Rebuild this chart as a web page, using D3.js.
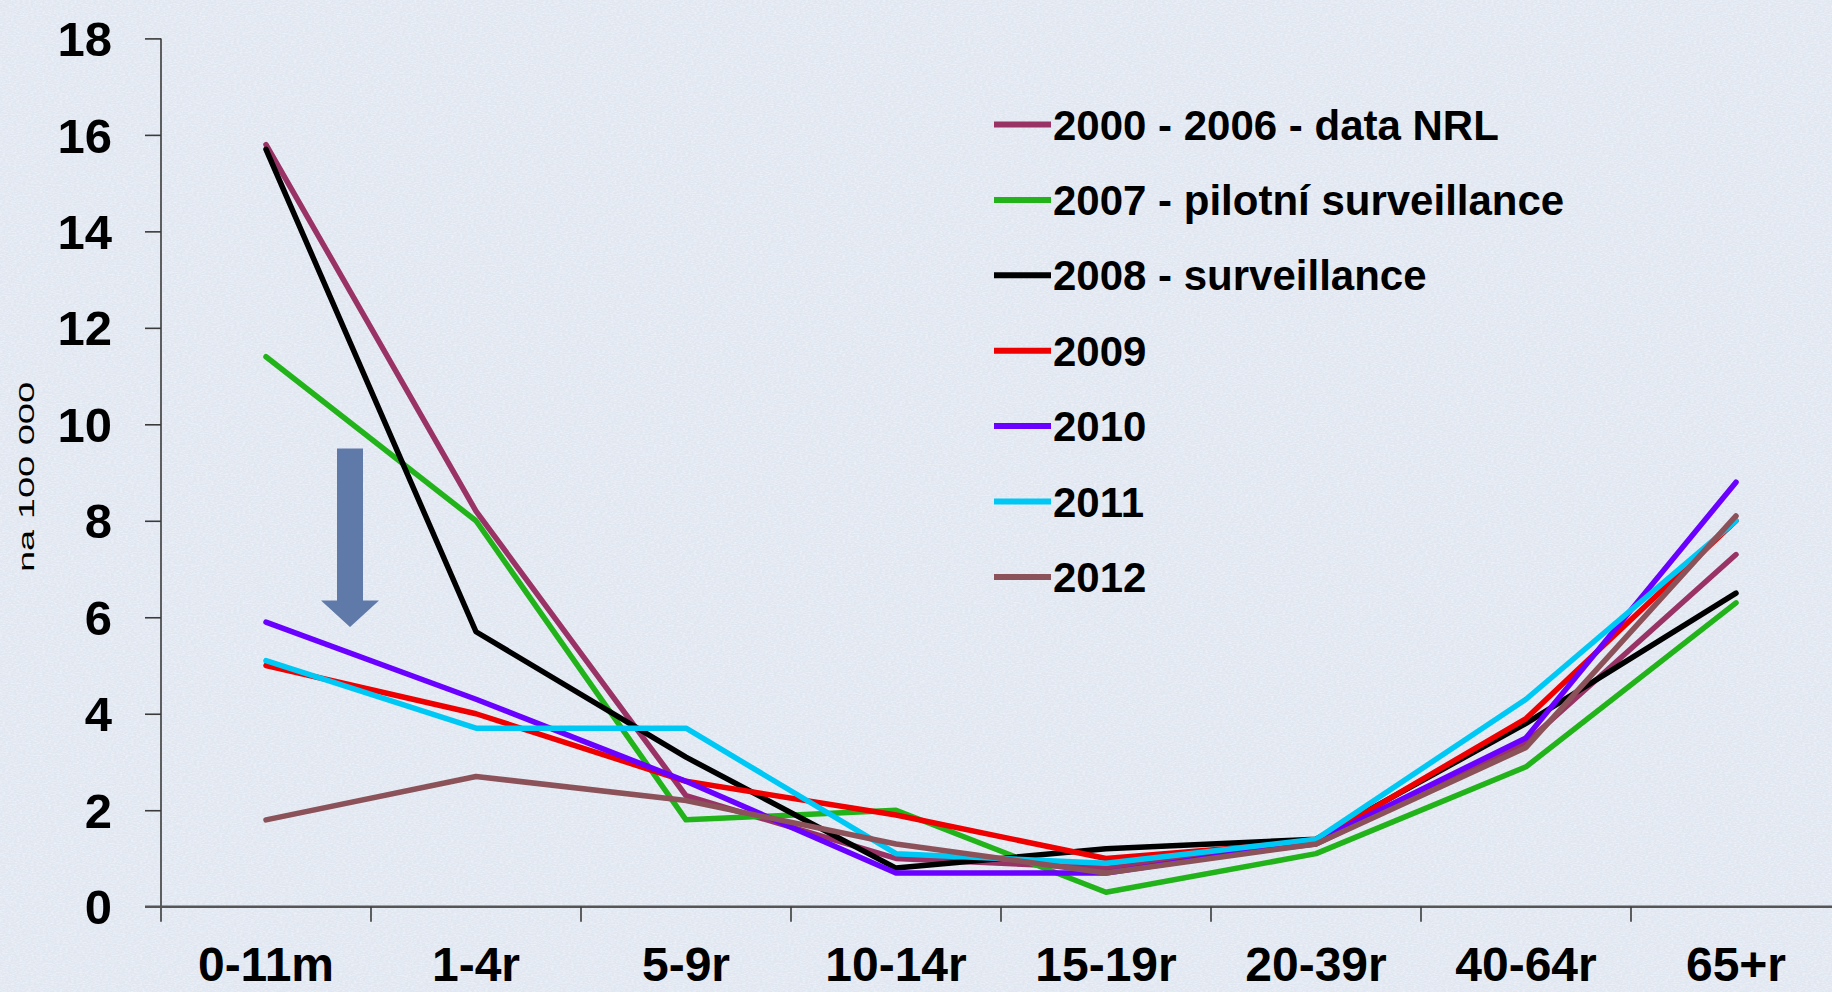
<!DOCTYPE html>
<html>
<head>
<meta charset="utf-8">
<script src="https://cdn.jsdelivr.net/npm/d3@7"></script>
<style>
  html, body { margin: 0; padding: 0; background: #e4eaf4; }
  svg { display: block; }
  text { font-family: "Liberation Sans", Arial, sans-serif; }
</style>
</head>
<body>
<div id="chart"></div>
<script>
// age groups on the x axis
var categories = ["0-11m", "1-4r", "5-9r", "10-14r", "15-19r", "20-39r", "40-64r", "65+r"];
var yTicks = [0, 2, 4, 6, 8, 10, 12, 14, 16, 18];

var seriesNames = ["2000 - 2006 - data NRL", "2007 - pilotní surveillance", "2008 - surveillance",
                   "2009", "2010", "2011", "2012"];
var seriesColors = ["#993366", "#22b31a", "#000000", "#ee0000", "#6a00ff", "#00c8f5", "#8c5259"];

// incidence per 100 000
var v2000_2006 = [15.8, 8.2, 2.3, 1.0, 0.8, 1.3, 3.4, 7.3];
var v2007      = [11.4, 8.0, 1.8, 2.0, 0.3, 1.1, 2.9, 6.3];
var v2008      = [15.7, 5.7, 3.1, 0.8, 1.2, 1.4, 3.8, 6.5];
var v2009      = [5.0, 4.0, 2.6, 1.9, 1.0, 1.35, 3.9, 8.0];
var v2010      = [5.9, 4.3, 2.6, 0.7, 0.7, 1.35, 3.5, 8.8];
var v2011      = [5.1, 3.7, 3.7, 1.1, 0.9, 1.4, 4.3, 8.0];
var v2012      = [1.8, 2.7, 2.2, 1.3, 0.7, 1.3, 3.3, 8.1];
var seriesValues = [v2000_2006, v2007, v2008, v2009, v2010, v2011, v2012];

// down arrow annotation (values on the y scale)
var arrowFrom = 9.5, arrowHead = 6.35, arrowTo = 5.8;

var W = 1832, H = 992;
var svg = d3.select('#chart').append('svg')
            .attr('width', W).attr('height', H);

// textured background
var defs = svg.append('defs');
var f = defs.append('filter').attr('id', 'paper')
            .attr('x', 0).attr('y', 0).attr('width', '100%').attr('height', '100%');
f.append('feTurbulence').attr('type', 'fractalNoise')
 .attr('baseFrequency', '0.35 0.9').attr('numOctaves', 2).attr('seed', 4);
f.append('feColorMatrix').attr('type', 'matrix')
 .attr('values', '0 0 0 0 1  0 0 0 0 1  0 0 0 0 1  0 0 0 -0.9 0.55');
svg.append('rect').attr('width', W).attr('height', H).attr('fill', '#e1e7f1');
svg.append('rect').attr('width', W).attr('height', H).attr('filter', 'url(#paper)');

var x = d3.scaleBand().domain(categories).range([161, 1841]).padding(0);
var y = d3.scaleLinear().domain([0, 18]).range([906.7, 38.4]);
var cx = function(c) { return x(c) + x.bandwidth() / 2; };

// y axis
var yAxis = svg.append('g')
               .attr('transform', 'translate(161,0)')
               .call(d3.axisLeft(y).tickValues(yTicks).tickSize(16).tickPadding(33).tickSizeOuter(0));
yAxis.select('.domain').attr('stroke', '#3a3a3a').attr('stroke-width', 1.6)
     .attr('d', 'M0,' + y(18) + 'V' + (y(0) + 15));
yAxis.selectAll('.tick line').attr('stroke', '#3a3a3a').attr('stroke-width', 1.6);
yAxis.selectAll('.tick text')
     .attr('font-size', 49).attr('font-weight', 'bold').attr('fill', '#000')
     .attr('dy', '0.35em')
     .style('font-family', '"Liberation Sans", Arial, sans-serif');

// x axis line and boundary ticks
svg.append('line').attr('x1', 145).attr('x2', W).attr('y1', y(0)).attr('y2', y(0))
   .attr('stroke', '#555').attr('stroke-width', 2.5);
svg.append('g').selectAll('line')
   .data(categories.slice(1))
   .enter().append('line')
   .attr('x1', function(d) { return x(d); }).attr('x2', function(d) { return x(d); })
   .attr('y1', y(0)).attr('y2', y(0) + 15)
   .attr('stroke', '#3a3a3a').attr('stroke-width', 1.6);
svg.append('g').selectAll('text')
   .data(categories)
   .enter().append('text')
   .attr('x', cx).attr('y', 981)
   .attr('text-anchor', 'middle')
   .attr('font-size', 48).attr('font-weight', 'bold')
   .text(function(d) { return d; });

// y axis title
svg.append('text')
   .attr('transform', 'translate(34,477) rotate(-90)')
   .attr('text-anchor', 'middle')
   .attr('font-size', 22)
   .attr('textLength', 190).attr('lengthAdjust', 'spacingAndGlyphs')
   .text('na 100 000');

// arrow
var ax = x(categories[0]) + x.bandwidth() * 0.9;
var arrowPts = [[ax - 13, y(arrowFrom)], [ax + 13, y(arrowFrom)], [ax + 13, y(arrowHead)],
                [ax + 29, y(arrowHead)], [ax, y(arrowTo)], [ax - 29, y(arrowHead)], [ax - 13, y(arrowHead)]];
svg.append('polygon')
   .attr('points', arrowPts.map(function(p) { return p.join(','); }).join(' '))
   .attr('fill', '#5f79a9');

// lines
var line = d3.line()
             .x(function(d, i) { return cx(categories[i]); })
             .y(function(d) { return y(d); });
svg.append('g').selectAll('path')
   .data(seriesValues)
   .enter().append('path')
   .attr('d', line)
   .attr('fill', 'none')
   .attr('stroke', function(d, i) { return seriesColors[i]; })
   .attr('stroke-width', 5.5)
   .attr('stroke-linejoin', 'round')
   .attr('stroke-linecap', 'round');

// legend
var legend = svg.append('g').selectAll('g')
                .data(seriesNames)
                .enter().append('g')
                .attr('transform', function(d, i) { return 'translate(0,' + (124.5 + i * 75.4) + ')'; });
legend.append('line')
      .attr('x1', 994).attr('x2', 1051).attr('y1', 0).attr('y2', 0)
      .attr('stroke', function(d, i) { return seriesColors[i]; })
      .attr('stroke-width', 6);
legend.append('text')
      .attr('x', 1053).attr('y', 15)
      .attr('font-size', 42).attr('font-weight', 'bold')
      .text(function(d) { return d; });
</script>
</body>
</html>
